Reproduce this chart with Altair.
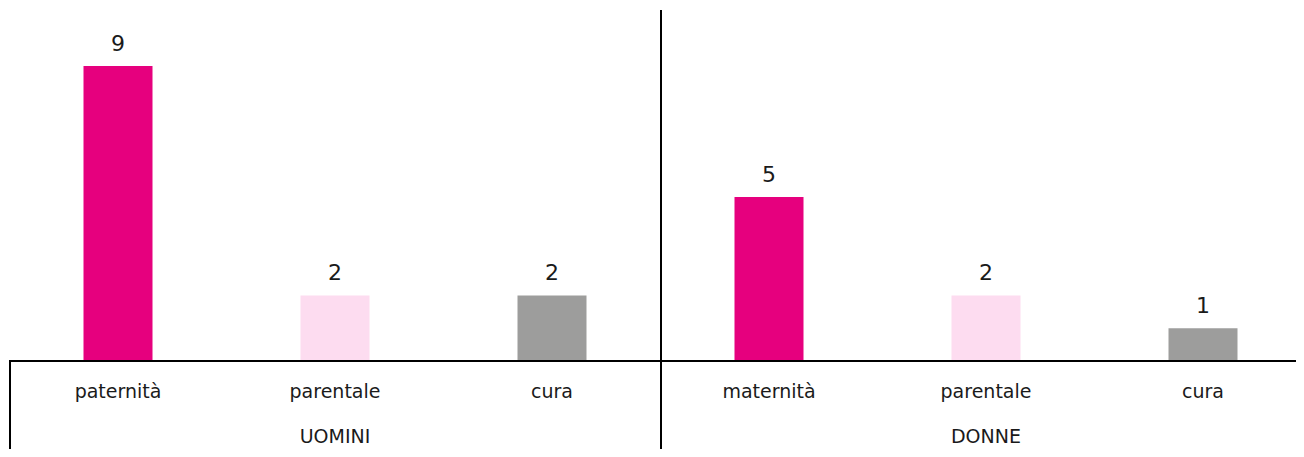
import altair as alt
import pandas as pd

keys = ["U_paternità", "U_parentale", "U_cura", "D_maternità", "D_parentale", "D_cura"]
labels = ["paternità", "parentale", "cura", "maternità", "parentale", "cura"]
values = [9, 2, 2, 5, 2, 1]
kinds = ["congedo", "parentale", "cura", "congedo", "parentale", "cura"]
groups = ["UOMINI", "DONNE"]
group_keys = ["U_parentale", "D_parentale"]

kind_domain = ["congedo", "parentale", "cura"]
kind_colors = ["#E6007E", "#FDDCF0", "#9D9D9C"]

df = pd.DataFrame({"key": keys, "label": labels, "value": values, "kind": kinds})
gdf = pd.DataFrame({"key": group_keys, "group": groups})

xscale = alt.Scale(domain=keys, range=[1.5, 1303.5], paddingInner=0, paddingOuter=0)
yscale = alt.Scale(domain=[0, 9], range=[353, 58], nice=False, zero=True)

X = alt.X("key:N", scale=xscale, axis=None, sort=keys)

bars = alt.Chart(df).mark_bar(width=69).encode(
    x=X,
    y=alt.Y("value:Q", scale=yscale, axis=None),
    color=alt.Color("kind:N", scale=alt.Scale(domain=kind_domain, range=kind_colors), legend=None),
)

vals = alt.Chart(df).mark_text(
    baseline="alphabetic", dy=-15, font="DejaVu Sans", fontSize=22, color="#1a1a1a"
).encode(x=X, y=alt.Y("value:Q", scale=yscale, axis=None), text="value:Q")

cat = alt.Chart(df).mark_text(
    baseline="middle", font="DejaVu Sans", fontSize=19, color="#1a1a1a"
).encode(x=X, y=alt.value(384), text="label:N")

grp = alt.Chart(gdf).mark_text(
    baseline="middle", font="DejaVu Sans", fontSize=19, color="#1a1a1a"
).encode(x=alt.X("key:N", scale=xscale, axis=None), y=alt.value(429), text="group:N")

hline = alt.Chart(gdf).mark_rule(color="#000000", strokeWidth=2).encode(
    x=alt.value(1), x2=alt.value(1288), y=alt.value(353)
)
vmid = alt.Chart(gdf).mark_rule(color="#000000", strokeWidth=2).encode(
    x=alt.value(653), y=alt.value(2), y2=alt.value(441)
)
vleft = alt.Chart(gdf).mark_rule(color="#000000", strokeWidth=2).encode(
    x=alt.value(2), y=alt.value(353), y2=alt.value(441)
)

chart = alt.layer(bars, vals, cat, grp, hline, vmid, vleft).properties(
    width=1288, height=441, padding=0,
    autosize=alt.AutoSizeParams(type="none"),
).configure_view(stroke=None)

chart.save("out.html", embed_options={"renderer": "svg", "actions": False})
